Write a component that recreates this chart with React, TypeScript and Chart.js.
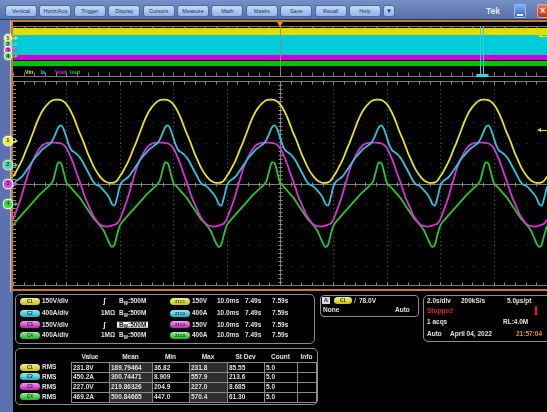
import React, { useEffect, useRef } from "react";
import { Chart, registerables } from "chart.js";

Chart.register(...registerables);

// ---------------- Waveform data (zoom window, 10 ms/div) ----------------
// One 20 ms mains cycle of each channel, every 0.5 ms.
const SAMPLE_MS = 0.5;
const CYCLES_ON_SCREEN = 5;
const timeDivisionsMs = [0, 10, 20, 30, 40, 50, 60, 70, 80, 90, 100];
const levelDivisions = [-5, -4, -3, -2, -1, 0, 1, 2, 3, 4, 5];

const vinCycleV = [-257, -228, -191, -154, -110, -59, -15, 37, 88, 140, 184, 221, 250, 272, 290, 301, 305, 305, 301, 290, 272, 243, 206, 162, 110, 59, 15, -37, -88, -132, -176, -213, -243, -268, -287, -298, -305, -305, -301, -287];
const iaCycleA = [-412, -314, -274, -235, -176, -98, -20, 59, 137, 196, 255, 314, 353, 392, 431, 510, 627, 745, 784, 706, 549, 392, 294, 255, 216, 157, 78, -20, -118, -216, -314, -372, -392, -431, -490, -549, -627, -745, -784, -627];
const voutCycleV = [-257, -206, -154, -96, -29, 37, 103, 154, 199, 235, 265, 287, 298, 304, 307, 307, 307, 304, 300, 290, 268, 228, 184, 132, 74, 22, -37, -96, -140, -184, -228, -257, -283, -298, -305, -307, -306, -301, -294, -285];
const ioutCycleA = [-412, -333, -274, -216, -157, -98, -39, 20, 78, 137, 196, 245, 294, 343, 392, 470, 666, 823, 804, 627, 431, 372, 314, 255, 196, 137, 59, -20, -98, -176, -255, -314, -372, -431, -510, -627, -745, -823, -784, -588];

const channelNames = ["Vin", "Ia", "Vout", "Iout"];
const channelScalesPerDiv = [150, 400, 150, 400];
const channelPositionsDiv = [2.06, 0.88, -0.05, -1.03];
const waveColors = ["#e8e21e", "#2fc4da", "#dc30d6", "#28c82a"];

// ---------------- Overview (full record, 2.0 s/div) ----------------
const overviewTimeS = [0, 20];
const vinEnvelopeTop = [4.6, 4.6];
const vinEnvelopeBottom = [3.25, 3.25];
const iaEnvelopeTop = [3.25, 3.25];
const iaEnvelopeBottom = [-0.7, -0.7];
const voutEnvelopeTop = [-0.7, -0.7];
const voutEnvelopeBottom = [-1.7, -1.7];
const ioutEnvelopeTop = [-1.85, -1.85];
const ioutEnvelopeBottom = [-2.85, -2.85];
const zoomWindowS = [17.5, 17.62];
const overviewColors = ["#e2dc00", "#00ccd8", "#d200d2", "#00c600"];

// ---------------- Readouts ----------------
const menuItems = ["Vertical", "Horiz/Acq", "Trigger", "Display", "Cursors", "Measure", "Math", "Masks", "Save", "Recall", "Help"];
const chScaleLabels = ["150V/div", "400A/div", "150V/div", "400A/div"];
const chTermination = ["ʃ", "1MΩ", "ʃ", "1MΩ"];
const chBandwidth = ["500M", "500M", "500M", "500M"];
const zoomScaleLabels = ["150V", "400A", "150V", "400A"];
const zoomTimePerDiv = ["10.0ms", "10.0ms", "10.0ms", "10.0ms"];
const zoomStart = ["7.49s", "7.49s", "7.49s", "7.49s"];
const zoomEnd = ["7.59s", "7.59s", "7.59s", "7.59s"];

const measHeaders = ["Value", "Mean", "Min", "Max", "St Dev", "Count", "Info"];
const measType = ["RMS", "RMS", "RMS", "RMS"];
const measValue = ["231.8V", "450.2A", "227.0V", "469.2A"];
const measMean = ["189.79464", "300.74471", "219.86326", "500.84665"];
const measMin = ["36.82", "8.909", "204.9", "447.0"];
const measMax = ["231.8", "557.9", "227.0", "570.4"];
const measStdDev = ["85.55", "213.6", "8.685", "61.30"];
const measCount = ["5.0", "5.0", "5.0", "5.0"];
const measInfo = ["", "", "", ""];

const FONT = '"Liberation Sans", Arial, sans-serif';
const badgeColors = [
  ["#f4f08a", "#c8c400"],
  ["#9aeaf2", "#1ab0c4"],
  ["#f49af0", "#c41cc0"],
  ["#9af09a", "#1cb41c"],
];

function tileCycle(cycle: number[]): number[] {
  const out: number[] = [];
  for (let k = 0; k < CYCLES_ON_SCREEN; k++) out.push(...cycle);
  out.push(cycle[0]);
  return out;
}

// ---------------- Chart plugins (graticule) ----------------
const mainGridPlugin = {
  id: "mainGrid",
  beforeDatasetsDraw(chart: any) {
    const { ctx, chartArea: a, scales } = chart;
    const xs = scales.x;
    const ys = scales.y;
    const line = (x1: number, y1: number, x2: number, y2: number) => {
      ctx.beginPath();
      ctx.moveTo(x1, y1);
      ctx.lineTo(x2, y2);
      ctx.stroke();
    };
    ctx.save();
    ctx.lineWidth = 1;
    // dotted division lines
    ctx.strokeStyle = "rgba(150,150,150,0.6)";
    ctx.setLineDash([1, 3.1]);
    timeDivisionsMs.forEach((t) => {
      if (t === 0 || t === 50 || t === 100) return;
      const px = Math.round(xs.getPixelForValue(t)) + 0.5;
      line(px, a.top, px, a.bottom);
    });
    ctx.strokeStyle = "rgba(150,150,150,0.45)";
    ctx.setLineDash([1, 9.7]);
    levelDivisions.forEach((d) => {
      if (d === 0 || Math.abs(d) === 5) return;
      const py = Math.round(ys.getPixelForValue(d)) + 0.5;
      line(a.left, py, a.right, py);
    });
    ctx.setLineDash([]);
    // centre cross-hair
    ctx.strokeStyle = "#7c7c7c";
    const cy = Math.round(ys.getPixelForValue(0)) + 0.5;
    const cx = Math.round(xs.getPixelForValue(50)) + 0.5;
    line(a.left, cy, a.right, cy);
    line(cx, a.top, cx, a.bottom);
    // borders
    const top = a.top + 0.5;
    const bot = a.bottom - 0.5;
    line(a.left, top, a.right, top);
    line(a.left, bot, a.right, bot);
    // minor ticks
    ctx.strokeStyle = "#8a8a8a";
    for (let t = 0; t <= 100; t += 2) {
      const px = Math.round(xs.getPixelForValue(t)) + 0.5;
      line(px, cy - 2, px, cy + 2);
      line(px, top, px, top + 3);
      line(px, bot, px, bot - 3);
    }
    for (let d = -5; d <= 5.001; d += 0.2) {
      const py = Math.round(ys.getPixelForValue(d)) + 0.5;
      line(cx - 2, py, cx + 2, py);
      line(a.left, py, a.left + 3, py);
    }
    ctx.restore();
  },
};

const overviewGridPlugin = {
  id: "overviewGrid",
  afterDatasetsDraw(chart: any) {
    const { ctx, chartArea: a, scales } = chart;
    const xs = scales.x;
    const ys = scales.y;
    const line = (x1: number, y1: number, x2: number, y2: number) => {
      ctx.beginPath();
      ctx.moveTo(x1, y1);
      ctx.lineTo(x2, y2);
      ctx.stroke();
    };
    ctx.save();
    ctx.lineWidth = 1;
    ctx.strokeStyle = "#7a7a7a";
    const top = a.top + 0.5;
    const bot = a.bottom - 0.5;
    line(a.left, top, a.right, top);
    line(a.left, bot, a.right, bot);
    for (let t = 0; t <= 20.001; t += 0.4) {
      const px = Math.round(xs.getPixelForValue(t)) + 0.5;
      line(px, top, px, top + 2);
      line(px, bot, px, bot - 4);
    }
    const cx = Math.round(xs.getPixelForValue(10)) + 0.5;
    ctx.strokeStyle = "rgba(140,140,140,0.9)";
    line(cx, a.top, cx, a.bottom);
    ctx.strokeStyle = "rgba(140,140,140,0.6)";
    ctx.setLineDash([1, 3]);
    const cy = Math.round(ys.getPixelForValue(0)) + 0.5;
    line(a.left, cy, a.right, cy);
    ctx.setLineDash([]);
    // zoom window indicator
    ctx.strokeStyle = "#30d0e0";
    zoomWindowS.forEach((t) => {
      const px = Math.round(xs.getPixelForValue(t)) + 0.5;
      line(px, a.top, px, a.bottom - 2);
    });
    const z0 = xs.getPixelForValue(zoomWindowS[0]);
    const z1 = xs.getPixelForValue(zoomWindowS[1]);
    ctx.fillStyle = "#30d8e8";
    ctx.fillRect(z0 - 4, a.bottom - 3, z1 - z0 + 9, 3);
    ctx.restore();
  },
};

function buildMainConfig(): any {
  const n = CYCLES_ON_SCREEN * vinCycleV.length + 1;
  const times = Array.from({ length: n }, (_, i) => i * SAMPLE_MS);
  const series = [vinCycleV, iaCycleA, voutCycleV, ioutCycleA];
  const datasets = series.map((cycle, c) => {
    const tiled = tileCycle(cycle);
    return {
      label: channelNames[c],
      data: tiled.map((v, i) => ({ x: times[i], y: channelPositionsDiv[c] + v / channelScalesPerDiv[c] })),
      borderColor: waveColors[c],
      borderWidth: 1.8,
      pointRadius: 0,
      cubicInterpolationMode: "monotone",
      fill: false,
    };
  });
  return {
    type: "line",
    data: { datasets },
    options: {
      animation: false,
      responsive: false,
      maintainAspectRatio: false,
      devicePixelRatio: 1,
      events: [],
      layout: { padding: 0 },
      plugins: { legend: { display: false }, tooltip: { enabled: false } },
      scales: {
        x: { type: "linear", min: 0, max: 100, display: false },
        y: { type: "linear", min: -5, max: 5, display: false },
      },
    },
    plugins: [mainGridPlugin],
  };
}

function buildOverviewConfig(): any {
  const bands = [
    [vinEnvelopeTop, vinEnvelopeBottom],
    [iaEnvelopeTop, iaEnvelopeBottom],
    [voutEnvelopeTop, voutEnvelopeBottom],
    [ioutEnvelopeTop, ioutEnvelopeBottom],
  ];
  const datasets: any[] = [];
  bands.forEach(([topArr, botArr], c) => {
    datasets.push({
      label: channelNames[c] + " max",
      data: topArr.map((v, i) => ({ x: overviewTimeS[i], y: v })),
      borderColor: overviewColors[c],
      borderWidth: 0,
      pointRadius: 0,
      fill: false,
    });
    datasets.push({
      label: channelNames[c] + " min",
      data: botArr.map((v, i) => ({ x: overviewTimeS[i], y: v })),
      borderColor: overviewColors[c],
      borderWidth: 0,
      pointRadius: 0,
      fill: "-1",
      backgroundColor: overviewColors[c],
    });
  });
  return {
    type: "line",
    data: { datasets },
    options: {
      animation: false,
      responsive: false,
      maintainAspectRatio: false,
      devicePixelRatio: 1,
      events: [],
      layout: { padding: 0 },
      plugins: { legend: { display: false }, tooltip: { enabled: false } },
      scales: {
        x: { type: "linear", min: 0, max: 20, display: false },
        y: { type: "linear", min: -5, max: 5, display: false },
      },
    },
    plugins: [overviewGridPlugin],
  };
}

// ---------------- Small UI helpers ----------------
function Txt(props: any) {
  const { x, y, children, color = "#e2e2e2", size = 6.5, bold = true, w, align = "left", bg } = props;
  const style: any = {
    position: "absolute",
    left: x,
    top: y,
    transform: "translateY(-50%)",
    fontSize: size,
    lineHeight: 1,
    color,
    fontWeight: bold ? 700 : 400,
    whiteSpace: "nowrap",
    fontFamily: FONT,
  };
  if (w !== undefined) {
    style.width = w;
    style.textAlign = align;
  }
  if (bg) style.background = bg;
  return <div style={style}>{children}</div>;
}

function Rect(props: any) {
  const { x, y, w, h, style } = props;
  return <div style={{ position: "absolute", left: x, top: y, width: w, height: h, boxSizing: "border-box", ...style }} />;
}

function Badge(props: any) {
  const { x, y, w, label, c, size = 4.5 } = props;
  const [hi, lo] = badgeColors[c];
  return (
    <div
      style={{
        position: "absolute",
        left: x,
        top: y - 3.5,
        width: w,
        height: 7,
        borderRadius: 3.5,
        background: `linear-gradient(${hi}, ${lo})`,
        color: "#2a2a2a",
        fontSize: size,
        fontWeight: 700,
        lineHeight: "7px",
        textAlign: "center",
        fontFamily: FONT,
      }}
    >
      {label}
    </div>
  );
}

function Marker(props: any) {
  const { x, y, n, fill, ring = "#ffffff", r = 4.6 } = props;
  return (
    <>
      <div
        style={{
          position: "absolute",
          left: x - r,
          top: y - r,
          width: 2 * r,
          height: 2 * r,
          borderRadius: "50%",
          background: fill,
          border: `1px solid ${ring}`,
          boxSizing: "border-box",
          boxShadow: "0 0 2px rgba(255,255,255,0.8)",
          fontSize: 6,
          fontWeight: 700,
          color: "#333",
          lineHeight: `${2 * r - 2}px`,
          textAlign: "center",
          fontFamily: FONT,
        }}
      >
        {n}
      </div>
      <div style={{ position: "absolute", left: x + r, top: y - 0.5, width: 3, height: 1, background: fill }} />
      <div
        style={{
          position: "absolute",
          left: x + r + 2.5,
          top: y - 2.5,
          width: 0,
          height: 0,
          borderLeft: `3px solid ${fill}`,
          borderTop: "2.5px solid transparent",
          borderBottom: "2.5px solid transparent",
        }}
      />
    </>
  );
}

function LevelArrow(props: any) {
  const { x, y, color } = props;
  return (
    <>
      <div
        style={{
          position: "absolute",
          left: x,
          top: y - 2.5,
          width: 0,
          height: 0,
          borderRight: `4px solid ${color}`,
          borderTop: "2.5px solid transparent",
          borderBottom: "2.5px solid transparent",
        }}
      />
      <div style={{ position: "absolute", left: x + 4, top: y - 0.5, width: 6, height: 1, background: color }} />
    </>
  );
}

function BW(props: any) {
  const { x, y, value, highlight } = props;
  return (
    <Txt x={x} y={y} color={highlight ? "#111" : "#e2e2e2"} bg={highlight ? "#f2f2f2" : undefined}>
      <span style={{ padding: highlight ? "0 2px" : 0 }}>
        B<span style={{ fontSize: 4.5, position: "relative", top: 1.5 }}>W</span>:{value}
      </span>
    </Txt>
  );
}

export default function App() {
  const mainRef = useRef<HTMLCanvasElement>(null);
  const ovRef = useRef<HTMLCanvasElement>(null);

  useEffect(() => {
    const charts: Chart[] = [];
    if (mainRef.current) charts.push(new Chart(mainRef.current, buildMainConfig()));
    if (ovRef.current) charts.push(new Chart(ovRef.current, buildOverviewConfig()));
    return () => charts.forEach((c) => c.destroy());
  }, []);

  const chRows = [301, 313, 324.5, 335];
  const measRows = [362, 372, 381.5, 391.5, 401.5];
  const measCols = [71, 109, 152, 189, 227, 264, 297, 316];
  const measCells = [measValue, measMean, measMin, measMax, measStdDev, measCount, measInfo];
  const shaded = [false, true, false, true, false, false, false];
  const markerFills = ["#ecec40", "#40d4e4", "#e040e0", "#40dc40"];
  const markerRings = ["#ffffff", "#f0f040", "#ffffff", "#ffffff"];

  return (
    <div
      style={{
        position: "fixed",
        left: 0,
        top: 0,
        width: 547,
        height: 412,
        overflow: "hidden",
        background: "#000",
        fontFamily: FONT,
      }}
    >
      {/* menu bar */}
      <Rect x={0} y={0} w={547} h={19} style={{ background: "linear-gradient(#7590c6, #5670a8)" }} />
      <Rect x={0} y={19} w={547} h={1} style={{ background: "#2a3556" }} />
      {menuItems.map((m, k) => (
        <div
          key={m}
          style={{
            position: "absolute",
            left: 5 + k * 34.4,
            top: 5,
            width: 32,
            height: 12,
            boxSizing: "border-box",
            borderRadius: 3,
            border: "1px solid #4a68a4",
            background: "linear-gradient(#c6dcf6, #8eb4e6)",
            color: "#1e2e5e",
            fontSize: 5.5,
            lineHeight: "10px",
            textAlign: "center",
            fontFamily: FONT,
          }}
        >
          {m}
        </div>
      ))}
      <div
        style={{
          position: "absolute",
          left: 383,
          top: 5,
          width: 12,
          height: 12,
          boxSizing: "border-box",
          borderRadius: 3,
          border: "1px solid #4a68a4",
          background: "linear-gradient(#c6dcf6, #8eb4e6)",
          color: "#1e2e5e",
          fontSize: 6,
          lineHeight: "10px",
          textAlign: "center",
        }}
      >
        ▼
      </div>
      <Txt x={486} y={11} size={8.5} color="#e6e8f0">
        Tek
      </Txt>
      <div
        style={{
          position: "absolute",
          left: 514,
          top: 4,
          width: 12,
          height: 14,
          borderRadius: 2,
          background: "linear-gradient(#7fb0f6, #2f62cc)",
          border: "1px solid #9ab8e8",
          boxSizing: "border-box",
        }}
      >
        <div style={{ position: "absolute", left: 2, top: 9, width: 6, height: 2, background: "#fff" }} />
      </div>
      <div
        style={{
          position: "absolute",
          left: 537,
          top: 4,
          width: 14,
          height: 14,
          borderRadius: 2,
          background: "linear-gradient(#f07a5a, #c82c14)",
          border: "1px solid #f0a090",
          boxSizing: "border-box",
          color: "#fff",
          fontSize: 8,
          fontWeight: 700,
          lineHeight: "12px",
          paddingLeft: 2,
          fontFamily: FONT,
        }}
      >
        X
      </div>

      {/* left strip and orange frame */}
      <Rect x={0} y={20} w={11} h={392} style={{ background: "#5a72b0" }} />
      <Rect x={10} y={20} w={1} h={272} style={{ background: "#b4c0da" }} />
      <Rect x={11} y={20} w={536} h={2} style={{ background: "#c67a2a" }} />
      <Rect x={11} y={20} w={2} h={272} style={{ background: "#c67a2a" }} />
      <Rect x={11} y={289} w={536} h={2} style={{ background: "#c67a2a" }} />
      <Rect x={11} y={291} w={2} h={121} style={{ background: "#5a72b0" }} />

      {/* overview */}
      <canvas
        ref={ovRef}
        width={534}
        height={51}
        style={{ position: "absolute", left: 13, top: 26, width: 534, height: 51, display: "block" }}
      />
      <div
        style={{
          position: "absolute",
          left: 277,
          top: 22,
          width: 0,
          height: 0,
          borderTop: "5px solid #f08a10",
          borderLeft: "3.5px solid transparent",
          borderRight: "3.5px solid transparent",
        }}
      />
      <Txt x={25} y={72.5} size={5.5} color={waveColors[0]}>Vin</Txt>
      <Txt x={40.5} y={72.5} size={5.5} color={waveColors[1]}>Ia</Txt>
      <Txt x={55} y={72.5} size={5.5} color={waveColors[2]}>Vout</Txt>
      <Txt x={70} y={72.5} size={5.5} color={waveColors[3]}>Iout</Txt>
      <LevelArrow x={538} y={36} color="#e8e21e" />
      {[38, 44, 50, 56].map((yy, i) => (
        <Marker key={"o" + i} x={8} y={yy} n={i + 1} fill={markerFills[i]} ring={markerRings[i]} r={4.2} />
      ))}

      {/* main zoom graticule */}
      <canvas
        ref={mainRef}
        width={534}
        height={205}
        style={{ position: "absolute", left: 13, top: 81, width: 534, height: 205, display: "block" }}
      />
      {[141, 165, 184, 204].map((yy, i) => (
        <Marker key={"m" + i} x={8} y={yy} n={i + 1} fill={markerFills[i]} ring={markerRings[i]} />
      ))}
      <LevelArrow x={537} y={130} color="#e8e21e" />

      {/* channel panel */}
      <Rect x={15} y={294} w={300} h={50} style={{ border: "1px solid #8c8c8c", borderRadius: 5 }} />
      {chRows.map((yy, i) => (
        <React.Fragment key={"ch" + i}>
          <Badge x={20} y={yy} w={20} label={"C" + (i + 1)} c={i} />
          <Txt x={42} y={yy}>{chScaleLabels[i]}</Txt>
          <Txt x={chTermination[i] === "1MΩ" ? 101 : 103} y={yy} size={chTermination[i] === "1MΩ" ? 6.5 : 8}>
            {chTermination[i]}
          </Txt>
          <BW x={i === 2 ? 117 : 119} y={yy} value={chBandwidth[i]} highlight={i === 2} />
          <Badge x={170} y={yy} w={20} label={"Z1C" + (i + 1)} c={i} size={4} />
          <Txt x={192} y={yy}>{zoomScaleLabels[i]}</Txt>
          <Txt x={217} y={yy}>{zoomTimePerDiv[i]}</Txt>
          <Txt x={245} y={yy}>{zoomStart[i]}</Txt>
          <Txt x={272} y={yy}>{zoomEnd[i]}</Txt>
        </React.Fragment>
      ))}

      {/* trigger panel */}
      <Rect x={320} y={295} w={99} h={22} style={{ border: "1px solid #8c8c8c", borderRadius: 4 }} />
      <div
        style={{
          position: "absolute",
          left: 322,
          top: 297,
          width: 8,
          height: 7,
          background: "#d8d8d8",
          color: "#222",
          fontSize: 5.5,
          fontWeight: 700,
          lineHeight: "7px",
          textAlign: "center",
          fontFamily: FONT,
        }}
      >
        A
      </div>
      <Badge x={334} y={300.5} w={18} label="C1" c={0} />
      <Txt x={354} y={300.5} size={8} bold={false}>/</Txt>
      <Txt x={359} y={300.5}>78.0V</Txt>
      <Txt x={323} y={309.5}>None</Txt>
      <Txt x={395} y={309.5}>Auto</Txt>

      {/* acquisition panel */}
      <Rect x={423} y={295} w={130} h={47} style={{ border: "1px solid #8c8c8c", borderRadius: 5 }} />
      <Txt x={427} y={300.5}>2.0s/div</Txt>
      <Txt x={461} y={300.5}>200kS/s</Txt>
      <Txt x={507} y={300.5}>5.0µs/pt</Txt>
      <Txt x={427} y={311} color="#e41e1e">Stopped</Txt>
      <Rect x={535} y={306} w={2} h={7} style={{ background: "#e41e1e" }} />
      <div
        style={{
          position: "absolute",
          left: 534,
          top: 313,
          width: 0,
          height: 0,
          borderTop: "3px solid #e41e1e",
          borderLeft: "2px solid transparent",
          borderRight: "2px solid transparent",
        }}
      />
      <Txt x={427} y={322}>1 acqs</Txt>
      <Txt x={503} y={322}>RL:4.0M</Txt>
      <Txt x={427} y={333.5}>Auto</Txt>
      <Txt x={450} y={333.5}>April 04, 2022</Txt>
      <Txt x={516} y={333.5} color="#ea921e">21:57:04</Txt>

      {/* measurement panel */}
      <Rect x={15} y={348} w={303} h={57} style={{ border: "1px solid #8c8c8c", borderRadius: 5 }} />
      {measHeaders.map((h, j) => (
        <Txt key={h} x={measCols[j]} y={357} w={measCols[j + 1] - measCols[j]} align="center">
          {h}
        </Txt>
      ))}
      {measValue.map((_, i) => {
        const y0 = measRows[i];
        const y1 = measRows[i + 1];
        const yc = (y0 + y1) / 2;
        return (
          <React.Fragment key={"mr" + i}>
            <Badge x={20} y={yc} w={20} label={"C" + (i + 1)} c={i} />
            <Txt x={42} y={yc}>{measType[i]}</Txt>
            {measCells.map((col, j) => (
              <React.Fragment key={"c" + j}>
                <Rect
                  x={measCols[j]}
                  y={y0}
                  w={measCols[j + 1] - measCols[j] + 1}
                  h={y1 - y0 + 1}
                  style={{ border: "1px solid #8a8a8a", background: shaded[j] ? "#2e2e2e" : "#000" }}
                />
                <Txt x={measCols[j] + 2} y={yc + 0.5}>{col[i]}</Txt>
              </React.Fragment>
            ))}
          </React.Fragment>
        );
      })}
    </div>
  );
}
